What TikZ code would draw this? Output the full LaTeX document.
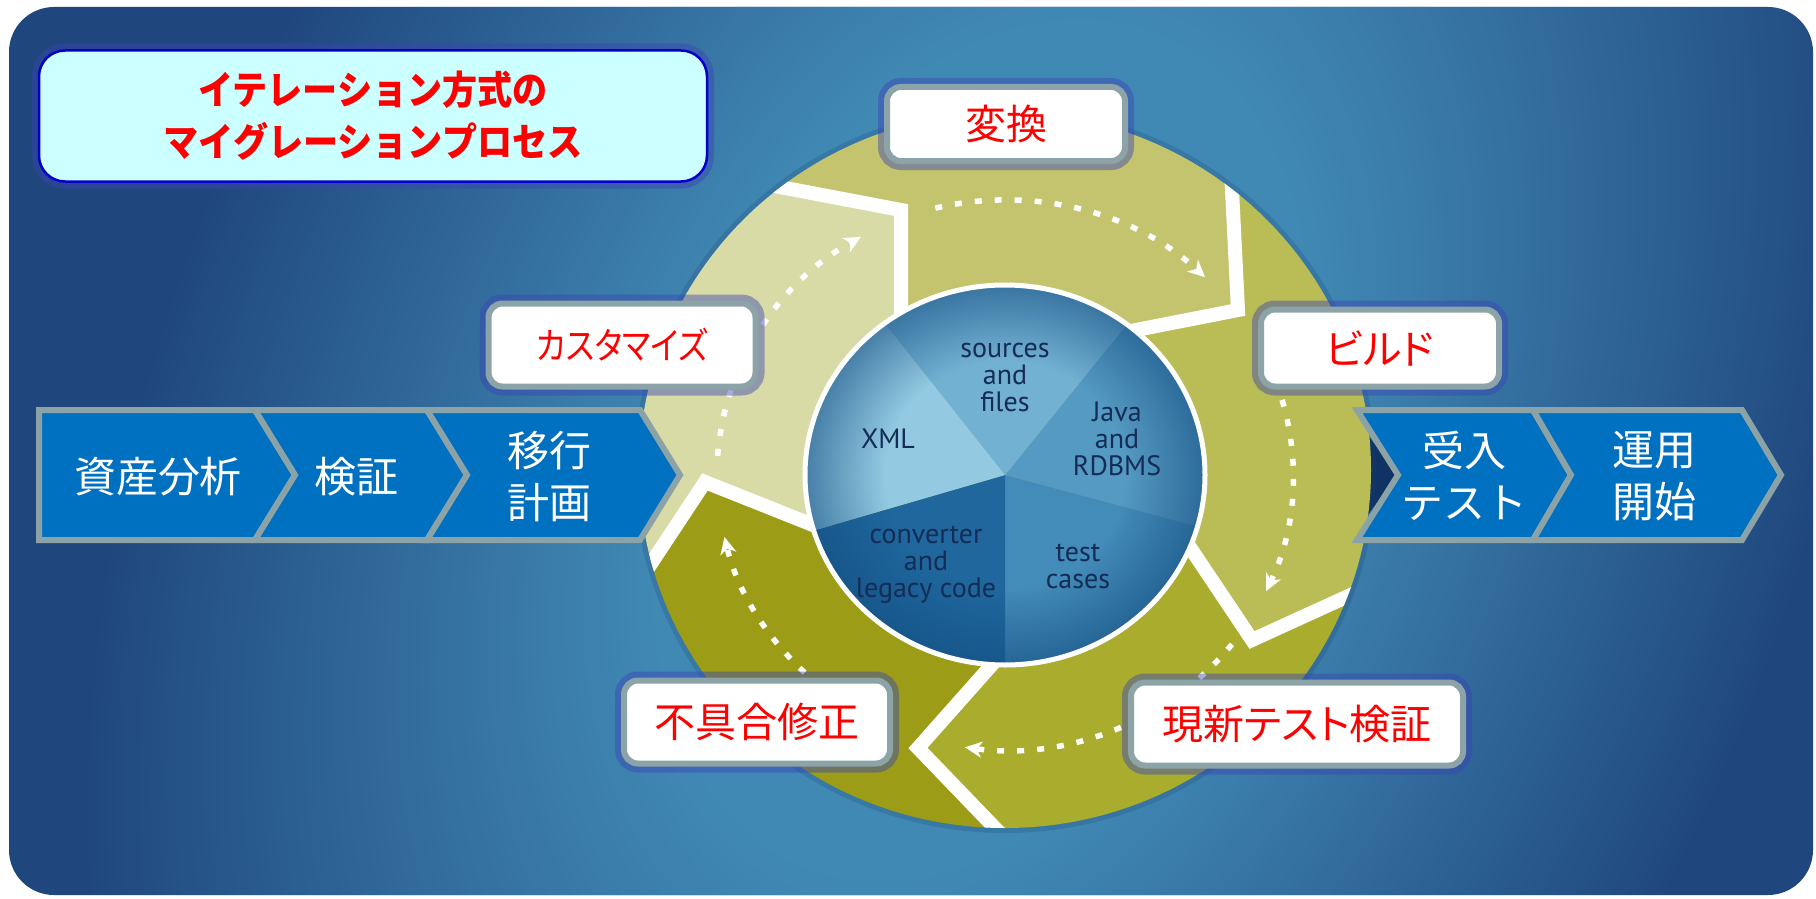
\documentclass[tikz,border=0pt]{standalone}
\usepackage{fontspec}
\usetikzlibrary{arrows.meta,fadings}
\newfontfamily\jpfont{Noto Sans CJK JP}
\newfontfamily\jpkana{Noto Sans CJK JP}[RawFeature=+palt]
\newfontfamily\jpnarrow{Noto Sans CJK JP}[RawFeature=+palt, FakeStretch=0.86]
\newfontfamily\jptitle{Noto Sans CJK JP}[FakeStretch=0.9]
\newfontfamily\piefont{PT Sans}
\definecolor{bgdark}{HTML}{1F467D}
\definecolor{bglight}{HTML}{4189B5}
\definecolor{segpale}{HTML}{D8DBA5}
\definecolor{segtop}{HTML}{C4C46E}
\definecolor{segright}{HTML}{BABC55}
\definecolor{segbr}{HTML}{A9AC2D}
\definecolor{segbl}{HTML}{9C9C17}
\definecolor{piexml}{HTML}{93CAE2}
\definecolor{piesrc}{HTML}{72B1D2}
\definecolor{piejava}{HTML}{559AC2}
\definecolor{pietest}{HTML}{438BB8}
\definecolor{pieconv}{HTML}{1F679D}
\definecolor{pieedge}{HTML}{124C80}
\definecolor{pietext}{HTML}{142C56}
\definecolor{chevfill}{HTML}{0070C0}
\definecolor{chevborder}{HTML}{8BA2A6}
\definecolor{lblborder}{HTML}{8CA3A8}
\definecolor{glowc}{HTML}{3A44B5}
\definecolor{titlefill}{HTML}{CCFFFF}
\definecolor{titleborder}{HTML}{0000C8}
\definecolor{notchdark}{HTML}{0F3363}
\definecolor{ringshadow}{HTML}{1A3F70}
\pgfdeclareradialshading{softfadeshade}{\pgfpointorigin}{color(0bp)=(pgftransparent!0); color(9bp)=(pgftransparent!0); color(25bp)=(pgftransparent!100); color(50bp)=(pgftransparent!100)}
\pgfdeclarefading{softfade}{\pgfuseshading{softfadeshade}}
\pgfdeclareradialshading{edgefadeshade}{\pgfpointorigin}{color(0bp)=(pgftransparent!100); color(15bp)=(pgftransparent!100); color(25bp)=(pgftransparent!40); color(50bp)=(pgftransparent!40)}
\pgfdeclarefading{edgefade}{\pgfuseshading{edgefadeshade}}
\tikzset{
  lbl/.style={draw=lblborder, line width=6pt, fill=white, rounded corners=14pt,
    text=red, font=\jpkana\fontsize{41}{44}\selectfont, inner sep=0pt,
    preaction={draw=glowc, line width=18pt, opacity=0.45}},
  titlebox/.style={draw=titleborder, line width=2.5pt, fill=titlefill, rounded corners=26pt,
    inner sep=0pt, preaction={draw=glowc, line width=14pt, opacity=0.45}},
  chev/.style={fill=chevfill, draw=chevborder, line width=6pt, line join=miter},
  wtext/.style={text=white, font=\jpfont\fontsize{42}{52}\selectfont, align=center, inner sep=0pt},
  pietxt/.style={text=pietext, font=\piefont\fontsize{28}{27}\selectfont, align=center, inner sep=0pt},
  sepline/.style={white, line width=14pt, line join=miter},
  dotarrow/.style={white, line width=5.5pt, dash pattern=on 7pt off 13pt,
    -{Stealth[length=17pt, width=16pt, inset=5pt]}},
}
\begin{document}
\begin{tikzpicture}[x=1pt,y=-1pt]
\useasboundingbox (0,0) rectangle (1816,899);
% background
\fill[white] (0,0) rectangle (1816,899);
\begin{scope}
  \clip[rounded corners=45pt] (9,7) rectangle (1813,895);
  \fill[bgdark] (0,0) rectangle (1816,899);
  \begin{scope}[transform canvas={rotate around={-24:(980,450)}}]
    \fill[bglight, path fading=softfade] (980,450) ellipse [x radius=820, y radius=1250];
  \end{scope}
\end{scope}
% notch shadow
\fill[notchdark] (1350,412) -- (1398,475) -- (1350,538) -- cycle;
% ring
\coordinate (C) at (1005,475);
\coordinate (I1) at (901,310); \coordinate (T1) at (901,210); \coordinate (O1) at (780,187);
\coordinate (I2) at (1136,330); \coordinate (T2) at (1238,310); \coordinate (O2) at (1232,190);
\coordinate (I3) at (1195,555); \coordinate (T3) at (1252,640); \coordinate (O3) at (1355,593);
\coordinate (I4) at (990,668); \coordinate (T4) at (918,748); \coordinate (O4) at (995,828);
\coordinate (I5) at (808,523); \coordinate (T5) at (705,482); \coordinate (O5) at (650,565);
\coordinate (E1) at (510,-159); \coordinate (E2) at (1504,-152); \coordinate (E3) at (1775,735);
\coordinate (E4) at (983,1252); \coordinate (E5) at (224,673);
\draw[ringshadow, line width=10pt, opacity=0.22] (1005,470) ellipse [x radius=366, y radius=358];
\begin{scope}
  \clip (1005,470) ellipse [x radius=366, y radius=358];
  \fill[segtop] (C) -- (I1) -- (T1) -- (O1) -- (E1) -- (E2) -- (O2) -- (T2) -- (I2) -- cycle;
  \fill[segright] (C) -- (I2) -- (T2) -- (O2) -- (E2) -- (E3) -- (O3) -- (T3) -- (I3) -- cycle;
  \fill[segbr] (C) -- (I3) -- (T3) -- (O3) -- (E3) -- (E4) -- (O4) -- (T4) -- (I4) -- cycle;
  \fill[segbl] (C) -- (I4) -- (T4) -- (O4) -- (E4) -- (E5) -- (O5) -- (T5) -- (I5) -- cycle;
  \fill[segpale] (C) -- (I5) -- (T5) -- (O5) -- (E5) -- (E1) -- (O1) -- (T1) -- (I1) -- cycle;
  \draw[sepline] (901,335) -- (T1) -- (O1) -- (660,164);
  \draw[sepline] (1230,150) -- (T2) -- (I2) -- (1100,337);
  \draw[sepline] (1175,525) -- (T3) -- (O3) -- (1400,572);
  \draw[sepline] (1005,650) -- (T4) -- (O4) -- (1030,864);
  \draw[sepline] (625,603) -- (T5) -- (I5) -- (830,532);
\end{scope}
% dotted arrows
\draw[dotarrow] (C) ++(130:288 and 275) arc [start angle=130, end angle=167, x radius=288, y radius=275];
\draw[dotarrow] (C) ++(184:288 and 275) arc [start angle=184, end angle=240, x radius=288, y radius=275];
\draw[dotarrow] (C) ++(-104:288 and 275) arc [start angle=-104, end angle=-46, x radius=288, y radius=275];
\draw[dotarrow] (C) ++(-20:288 and 275) arc [start angle=-20, end angle=25, x radius=288, y radius=275];
\draw[dotarrow] (C) ++(38:288 and 275) arc [start angle=38, end angle=98, x radius=288, y radius=275];
% pie
\fill[piejava] (C) -- ++(-52.5:200 and 190) arc [start angle=-52.5, end angle=15.7, x radius=200, y radius=190] -- cycle;
\fill[pietest] (C) -- ++(15.7:200 and 190) arc [start angle=15.7, end angle=90, x radius=200, y radius=190] -- cycle;
\fill[pieconv] (C) -- ++(90:200 and 190) arc [start angle=90, end angle=163, x radius=200, y radius=190] -- cycle;
\fill[piexml] (C) -- ++(163:200 and 190) arc [start angle=163, end angle=233, x radius=200, y radius=190] -- cycle;
\fill[piesrc] (C) -- ++(233:200 and 190) arc [start angle=233, end angle=307.5, x radius=200, y radius=190] -- cycle;
\fill[pieedge, path fading=edgefade] (C) ellipse [x radius=200, y radius=190];
\draw[white, line width=5pt] (C) ellipse [x radius=200, y radius=190];
\node[pietxt] (srcs) at (1005,377) {sources\\and\\files};
\node[pietxt] (xml) at (888,439) {XML};
\node[pietxt] (java) at (1117,439) {Java\\and\\RDBMS};
\node[pietxt] (conv) at (926,565) {converter\\and\\legacy code};
\node[pietxt] (test) at (1078,566) {test\\cases};
% left chevrons
\draw[chev] (39,410) -- (255,410) -- (295,475) -- (255,540) -- (39,540) -- cycle;
\draw[chev] (255,410) -- (427,410) -- (467,475) -- (427,540) -- (255,540) -- (295,475) -- cycle;
\draw[chev] (427,410) -- (640,410) -- (680,475) -- (640,540) -- (427,540) -- (467,475) -- cycle;
\node[wtext] (shisan) at (158,477) {資産分析};
\node[wtext] (kensho) at (356,477) {検証};
\node[wtext] (ikou) at (549,477) {移行\\計画};
% right chevrons
\draw[chev] (1357,410) -- (1533,410) -- (1571,475) -- (1533,540) -- (1357,540) -- (1398,475) -- cycle;
\draw[chev] (1533,410) -- (1742,410) -- (1781,475) -- (1742,540) -- (1533,540) -- (1571,475) -- cycle;
\node[wtext] (ukeire) at (1464,476) {受入\\テスト};
\node[wtext] (unyou) at (1654,476) {運用\\開始};
% labels
\node[lbl, minimum width=238pt, minimum height=74pt] (henkan) at (1006,124) {変換};
\node[lbl, minimum width=267pt, minimum height=83pt, font=\jpnarrow\fontsize{37}{40}\selectfont] (custom) at (622,345) {カスタマイズ};
\node[lbl, minimum width=238pt, minimum height=77pt] (build) at (1380,348) {ビルド};
\node[lbl, minimum width=266pt, minimum height=83pt] (fix) at (757,722) {不具合修正};
\node[lbl, minimum width=332pt, minimum height=83pt] (verify) at (1297,724) {現新テスト検証};
% title
\node[titlebox, minimum width=668pt, minimum height=131pt, align=center,
  font=\jptitle\bfseries\fontsize{39}{52}\selectfont, text=red] (title) at (373,116)
  {イテレーション方式の\\マイグレーションプロセス};
\end{tikzpicture}
\end{document}
